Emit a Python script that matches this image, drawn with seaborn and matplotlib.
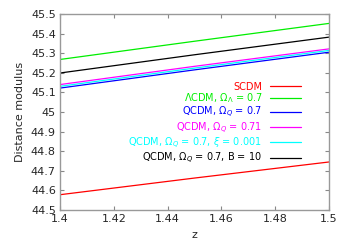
import numpy as np
import pandas as pd
import seaborn as sns
import matplotlib.pyplot as plt

z = [1.40, 1.45, 1.50]
scdm = [44.578, 44.663, 44.745]
lcdm = [45.268, 45.361, 45.452]
qcdm_07 = [45.122, 45.215, 45.305]
qcdm_071 = [45.140, 45.233, 45.322]
qcdm_xi = [45.131, 45.224, 45.314]
qcdm_b = [45.199, 45.292, 45.382]

labels = ['SCDM', r'$\Lambda$CDM, $\Omega_\Lambda$ = 0.7', r'QCDM, $\Omega_Q$ = 0.7',
          r'QCDM, $\Omega_Q$ = 0.71', r'QCDM, $\Omega_Q$ = 0.7, $\xi$ = 0.001',
          r'QCDM, $\Omega_Q$ = 0.7, B = 10']
series = [scdm, lcdm, qcdm_07, qcdm_071, qcdm_xi, qcdm_b]
colors = ['#ff0000', '#00ee00', '#0000ff', '#ff00ff', '#00ffff', '#000000']

df = pd.DataFrame({
    'z': np.tile(z, len(series)),
    'mu': np.concatenate(series),
    'model': np.repeat(labels, len(z)),
})

sns.set_style('ticks')
plt.rcParams['font.family'] = ['DejaVu Sans']
plt.rcParams['mathtext.fontset'] = 'dejavusans'

fig = plt.figure(figsize=(3.49, 2.45), dpi=100)
ax = fig.add_axes([60 / 349, 35 / 245, 269 / 349, 196 / 245])
sns.lineplot(data=df, x='z', y='mu', hue='model', palette=colors, hue_order=labels,
             linewidth=0.9, ax=ax, legend=True)

ax.set_xlim(1.4, 1.5)
ax.set_ylim(44.5, 45.5)
ax.set_xticks(np.arange(1.4, 1.5001, 0.02))
ax.set_xticklabels(['1.4', '1.42', '1.44', '1.46', '1.48', '1.5'])
ax.set_yticks(np.arange(44.5, 45.5001, 0.1))
ax.set_yticklabels(['44.5', '44.6', '44.7', '44.8', '44.9', '45', '45.1', '45.2', '45.3', '45.4', '45.5'])
ax.tick_params(direction='in', top=True, right=True, labelsize=8, length=3, color='#888888', pad=3)
for s in ax.spines.values():
    s.set_color('#999999')
    s.set_linewidth(1.0)
ax.set_xlabel('z', fontsize=8)
ax.set_ylabel('Distance modulus', fontsize=8)

ax.legend(loc='upper right', bbox_to_anchor=(0.915, 0.68), frameon=False, markerfirst=False,
          fontsize=7, labelcolor='linecolor', handlelength=3.2, handletextpad=0.8,
          labelspacing=0.0, borderpad=0)

fig.savefig('out.png', dpi=100)
